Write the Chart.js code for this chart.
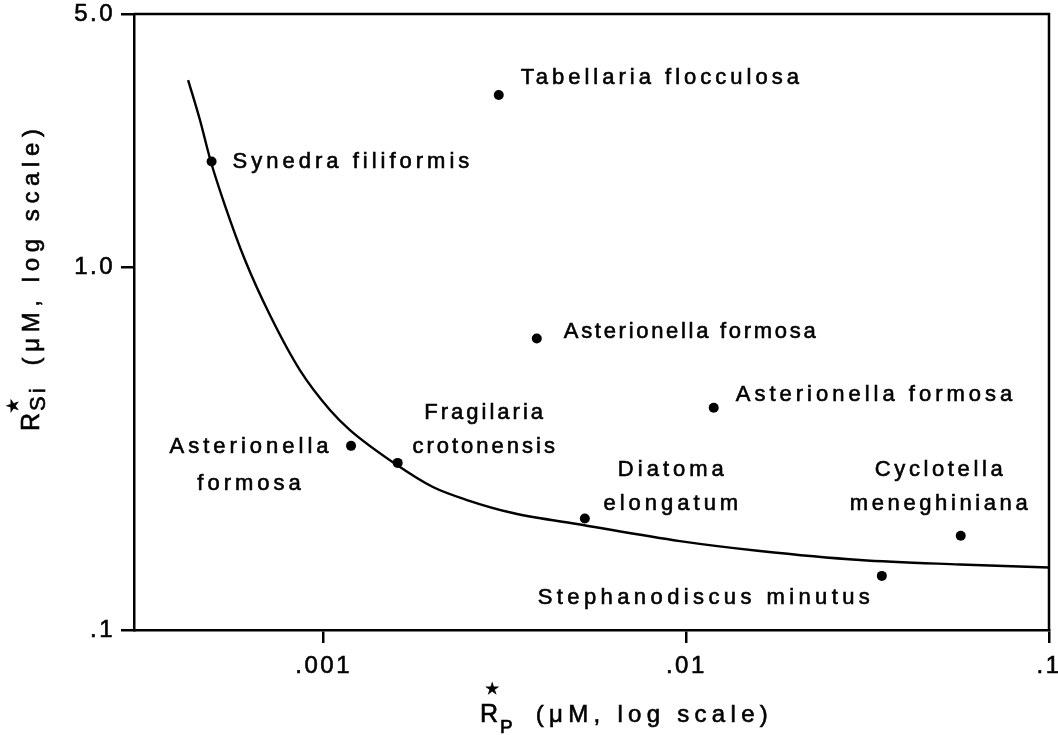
<!DOCTYPE html>
<html><head><meta charset="utf-8">
<script src="https://cdn.jsdelivr.net/npm/chart.js@4/dist/chart.umd.min.js"></script>
<style>html,body{margin:0;padding:0;background:#fff;overflow:hidden}</style>
</head><body>
<canvas id="c" width="1058" height="735" style="display:block;width:1058px;height:735px"></canvas>
<script>
// ---- data ----
const speciesNames = [
  ['Synedra filiformis'],
  ['Tabellaria flocculosa'],
  ['Asterionella formosa'],
  ['Asterionella formosa'],
  ['Asterionella', 'formosa'],
  ['Fragilaria', 'crotonensis'],
  ['Diatoma', 'elongatum'],
  ['Cyclotella', 'meneghiniana'],
  ['Stephanodiscus minutus']
];
const rP  = [0.000491, 0.00304, 0.00387, 0.0119, 0.00119, 0.00160, 0.00525, 0.0571, 0.0346];
const rSi = [1.96,     2.99,    0.637,   0.410,  0.322,   0.289,   0.203,   0.182,  0.141];

const curveRP  = [0.000423, 0.000456, 0.000489, 0.000534, 0.000607, 0.000711, 0.000860, 0.001041, 0.001182, 0.001593, 0.002001, 0.002485, 0.003324, 0.005187, 0.00960, 0.01595, 0.03011, 0.05679, 0.100];
const curveRSi = [3.287,    2.550,    1.953,    1.486,    1.048,    0.739,    0.521,    0.4043,   0.356,    0.2851,   0.2479,   0.2283,   0.2102,   0.1948,   0.1759,  0.1652,  0.1560,  0.1516,  0.1487];

const xTickValues = [0.001, 0.01, 0.1];
const xTickLabels = ['.001', '.01', '.1'];
const yTickValues = [0.1, 1, 5];
const yTickLabels = ['.1', '1.0', '5.0'];

// ---- label placement (offsets from each point, in px) ----
const labelPlacement = [
  {dx: 21,   dy: 0,   align: 'left',   lh: 0,  ls: 4},
  {dx: 22,   dy: -17, align: 'left',   lh: 0,  ls: 4},
  {dx: 27,   dy: -7,  align: 'left',   lh: 0,  ls: 2.7},
  {dx: 22,   dy: -13, align: 'left',   lh: 0,  ls: 4},
  {dx: -102, dy: 1,   align: 'center', lh: 37, ls: 4},
  {dx: 86,   dy: -50, align: 'center', lh: 34, ls: 3},
  {dx: 86,   dy: -49, align: 'center', lh: 34, ls: 4},
  {dx: -22,  dy: -66, align: 'center', lh: 34, ls: 3.6},
  {dx: -12,  dy: 22,  align: 'right',  lh: 0,  ls: 4.4}
];

const FONT = '"Liberation Sans", Arial, Helvetica, sans-serif';

const letterSpacingPlugin = {
  id: 'ls',
  beforeDraw(chart) { chart.ctx.letterSpacing = '2.5px'; }
};

const framePlugin = {
  id: 'frame',
  afterDraw(chart) {
    const {ctx, chartArea: a} = chart;
    ctx.save();
    ctx.strokeStyle = '#000';
    ctx.lineWidth = 2.5;
    ctx.beginPath();
    ctx.moveTo(a.left, a.top); ctx.lineTo(a.right, a.top); ctx.lineTo(a.right, a.bottom);
    ctx.stroke();
    ctx.restore();
  }
};

function fillStroke(ctx, t, x, y) {
  ctx.fillText(t, x, y);
  ctx.strokeText(t, x, y);
}

const labelPlugin = {
  id: 'labels',
  afterDatasetsDraw(chart) {
    const ctx = chart.ctx;
    const pts = chart.getDatasetMeta(1).data;
    ctx.save();
    ctx.font = '22px ' + FONT;
    ctx.fillStyle = '#000';
    ctx.strokeStyle = '#000';
    ctx.lineWidth = 0.6;
    ctx.textBaseline = 'middle';
    speciesNames.forEach((lines, i) => {
      const p = pts[i], L = labelPlacement[i];
      ctx.letterSpacing = L.ls + 'px';
      ctx.textAlign = L.align;
      lines.forEach((t, k) => {
        let x = p.x + L.dx;
        if (L.align === 'center') x += L.ls / 2; else if (L.align === 'right') x += L.ls;
        fillStroke(ctx, t, x, p.y + L.dy + k * L.lh);
      });
    });
    ctx.restore();
  }
};

function drawRich(ctx, segs) {
  let x = 0;
  segs.forEach(s => {
    ctx.font = s.size + 'px ' + (s.font || FONT);
    ctx.letterSpacing = (s.ls || 0) + 'px';
    fillStroke(ctx, s.t, x + (s.dx || 0), s.dy || 0);
    if (!s.noAdvance) x += ctx.measureText(s.t).width;
    if (s.gap) x += s.gap;
  });
}

const titlePlugin = {
  id: 'titles',
  afterDraw(chart) {
    const ctx = chart.ctx;
    ctx.save();
    ctx.fillStyle = '#000';
    ctx.strokeStyle = '#000';
    ctx.lineWidth = 0.6;
    ctx.textAlign = 'left';
    ctx.textBaseline = 'alphabetic';
    // x-axis title
    ctx.save();
    ctx.translate(480, 722);
    drawRich(ctx, [
      {t: 'R', size: 25, ls: 0},
      {t: '\u2605', size: 16, font: '"DejaVu Sans", sans-serif', dx: -13, dy: -28, noAdvance: true},
      {t: 'P', size: 19, dx: 2, dy: 11, gap: 25},
      {t: '(\u03BCM, log scale)', size: 24, ls: 5.3}
    ]);
    ctx.restore();
    // y-axis title
    ctx.save();
    ctx.translate(39, 431);
    ctx.rotate(-Math.PI / 2);
    drawRich(ctx, [
      {t: 'R', size: 25, ls: 0},
      {t: '\u2605', size: 16, font: '"DejaVu Sans", sans-serif', dx: 0, dy: -21, noAdvance: true},
      {t: 'Si', size: 22, ls: 3, dx: 2, dy: 6, gap: 22},
      {t: '(\u03BCM, log scale)', size: 24, ls: 5.6}
    ]);
    ctx.restore();
    ctx.restore();
  }
};

const tickFont = {family: FONT, size: 24};

new Chart(document.getElementById('c'), {
  type: 'scatter',
  data: {
    datasets: [
      {
        data: curveRP.map((x, i) => ({x, y: curveRSi[i]})),
        showLine: true, borderColor: '#000', borderWidth: 2.4,
        pointRadius: 0, cubicInterpolationMode: 'monotone', fill: false
      },
      {
        data: rP.map((x, i) => ({x, y: rSi[i]})),
        showLine: false, pointRadius: 5, pointBackgroundColor: '#000',
        pointBorderColor: '#000', pointBorderWidth: 0
      }
    ]
  },
  options: {
    responsive: false, animation: false, devicePixelRatio: 1,
    layout: {padding: {top: 14, right: 9, left: 0, bottom: 0}},
    plugins: {legend: {display: false}, tooltip: {enabled: false}},
    scales: {
      x: {
        type: 'logarithmic', min: 0.0003, max: 0.1,
        afterBuildTicks: s => { s.ticks = xTickValues.map(v => ({value: v})); },
        afterFit: s => { s.height = 105; s.paddingLeft = 0; s.paddingRight = 0; },
        ticks: {
          callback: (v, i) => xTickLabels[i], autoSkip: false, maxRotation: 0,
          font: tickFont, color: '#000', padding: 9,
          textStrokeColor: '#000', textStrokeWidth: 0.6
        },
        grid: {drawOnChartArea: false, drawTicks: true, tickLength: 13, color: '#000', lineWidth: 2.5},
        border: {display: true, color: '#000', width: 2.5}
      },
      y: {
        type: 'logarithmic', min: 0.1, max: 5,
        afterBuildTicks: s => { s.ticks = yTickValues.map(v => ({value: v})); },
        afterFit: s => { s.width = 134; s.paddingTop = 0; s.paddingBottom = 0; },
        ticks: {
          callback: (v, i) => yTickLabels[i], autoSkip: false,
          font: tickFont, color: '#000', padding: 6,
          textStrokeColor: '#000', textStrokeWidth: 0.6
        },
        grid: {drawOnChartArea: false, drawTicks: true, tickLength: 13, color: '#000', lineWidth: 2.5},
        border: {display: true, color: '#000', width: 2.5}
      }
    }
  },
  plugins: [letterSpacingPlugin, framePlugin, labelPlugin, titlePlugin]
});
</script>
</body></html>
